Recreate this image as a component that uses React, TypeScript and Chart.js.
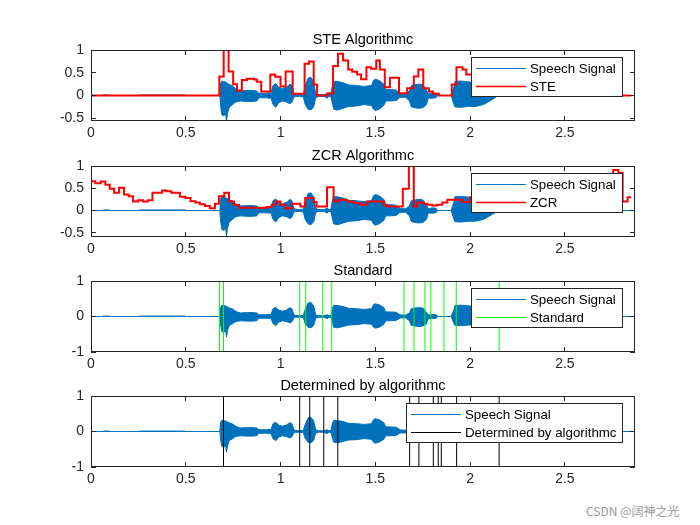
import React, { useEffect, useRef } from 'react';
import { Chart, registerables } from 'chart.js';

Chart.register(...registerables);

// ---------- data ----------
const X_MAX = 2.87;
const xTicks = [0, 0.5, 1, 1.5, 2, 2.5];
const yTicksHalf = [-0.5, 0, 0.5, 1];
const yTicksUnit = [-1, 0, 1];

// speech signal envelope (seconds, upper, lower)
const sigTime = [0, 0.06, 0.062, 0.10, 0.102, 0.25, 0.252, 0.50, 0.502, 0.68, 0.683, 0.69, 0.70, 0.71, 0.715, 0.72, 0.73, 0.745, 0.76, 0.775, 0.79, 0.82, 0.85, 0.875, 0.885, 0.92, 0.95, 0.96, 0.975, 0.99, 1.01, 1.03, 1.05, 1.06, 1.07, 1.08, 1.10, 1.12, 1.13, 1.145, 1.16, 1.175, 1.185, 1.20, 1.23, 1.245, 1.255, 1.265, 1.275, 1.28, 1.30, 1.33, 1.36, 1.40, 1.44, 1.48, 1.49, 1.50, 1.52, 1.545, 1.555, 1.58, 1.61, 1.63, 1.64, 1.66, 1.68, 1.69, 1.71, 1.73, 1.75, 1.77, 1.78, 1.79, 1.80, 1.82, 1.83, 1.90, 1.915, 1.92, 1.95, 1.99, 2.03, 2.07, 2.10, 2.12, 2.135, 2.14, 2.87];
const sigUpper = [0, 0, 0.012, 0.012, 0, 0, 0.012, 0.012, 0, 0, 0.25, 0.32, 0.30, 0.30, 0.28, 0.27, 0.24, 0.22, 0.16, 0.12, 0.10, 0.11, 0.11, 0.10, 0.05, 0.05, 0.06, 0.22, 0.26, 0.18, 0.15, 0.18, 0.25, 0.22, 0.05, 0.03, 0.02, 0.03, 0.20, 0.38, 0.40, 0.30, 0.05, 0.02, 0.02, 0.05, 0.02, 0.02, 0.25, 0.31, 0.31, 0.28, 0.23, 0.22, 0.20, 0.22, 0.33, 0.36, 0.33, 0.25, 0.13, 0.13, 0.12, 0.05, 0.04, 0.04, 0.10, 0.22, 0.24, 0.25, 0.24, 0.12, 0.04, 0.05, 0.06, 0.05, 0, 0, 0.20, 0.31, 0.32, 0.30, 0.28, 0.22, 0.14, 0.08, 0.04, 0, 0];
const sigLower = [0, 0, 0, 0, 0, 0, 0, 0, 0, 0, -0.2, -0.42, -0.45, -0.40, -0.58, -0.40, -0.25, -0.21, -0.15, -0.13, -0.12, -0.13, -0.13, -0.12, -0.05, -0.05, -0.06, -0.20, -0.26, -0.16, -0.12, -0.14, -0.18, -0.15, -0.04, -0.02, -0.02, -0.03, -0.2, -0.30, -0.32, -0.25, -0.05, -0.02, -0.02, -0.06, -0.02, -0.02, -0.2, -0.30, -0.32, -0.28, -0.24, -0.23, -0.20, -0.22, -0.30, -0.33, -0.30, -0.22, -0.12, -0.12, -0.11, -0.04, -0.04, -0.04, -0.12, -0.25, -0.27, -0.28, -0.27, -0.2, -0.05, -0.06, -0.06, -0.05, 0, 0, -0.2, -0.25, -0.26, -0.24, -0.24, -0.2, -0.13, -0.08, -0.04, 0, 0];

// short-time energy (frame start time, value)
const steTime = [0, 0.677, 0.70, 0.726, 0.75, 0.77, 0.796, 0.823, 0.86, 0.875, 0.898, 0.946, 0.972, 1.0, 1.027, 1.064, 1.127, 1.15, 1.175, 1.193, 1.25, 1.277, 1.303, 1.33, 1.357, 1.378, 1.404, 1.425, 1.453, 1.478, 1.505, 1.524, 1.55, 1.577, 1.625, 1.668, 1.703, 1.727, 1.753, 1.783, 1.804, 1.836, 1.903, 1.928, 1.96, 1.98, 2.03, 2.08, 2.13, 2.16, 2.85];
const steValue = [0, 0.42, 1.0, 0.53, 0.25, 0.11, 0.34, 0.37, 0.35, 0.30, 0.09, 0.46, 0.41, 0.2, 0.53, 0.04, 0.70, 0.75, 0.24, 0, 0.05, 0.65, 0.92, 0.77, 0.57, 0.52, 0.46, 0.36, 0.62, 0.59, 0.77, 0.57, 0.18, 0.39, 0.05, 0.16, 0.42, 0.57, 0.16, 0.09, 0.04, 0, 0.24, 0.62, 0.57, 0.46, 0.38, 0.2, 0.05, 0, 0];

// zero-crossing rate (frame start time, value)
const zcrTime = [0, 0.023, 0.051, 0.076, 0.099, 0.122, 0.148, 0.174, 0.199, 0.222, 0.248, 0.275, 0.301, 0.324, 0.375, 0.398, 0.424, 0.469, 0.498, 0.525, 0.551, 0.574, 0.601, 0.627, 0.654, 0.675, 0.703, 0.728, 0.754, 0.781, 0.927, 0.953, 0.975, 1.0, 1.025, 1.06, 1.105, 1.13, 1.175, 1.19, 1.245, 1.28, 1.307, 1.35, 1.385, 1.42, 1.457, 1.545, 1.56, 1.645, 1.677, 1.703, 1.72, 1.757, 1.775, 1.80, 1.825, 1.853, 1.88, 1.96, 2.0, 2.1, 2.3, 2.5, 2.755, 2.782, 2.805, 2.831, 2.85];
const zcrValue = [0.66, 0.61, 0.65, 0.58, 0.49, 0.40, 0.51, 0.36, 0.32, 0.20, 0.23, 0.20, 0.23, 0.40, 0.45, 0.43, 0.40, 0.31, 0.28, 0.21, 0.18, 0.14, 0.10, 0.05, 0.15, 0.32, 0.40, 0.20, 0.13, 0.06, 0.08, 0.13, 0.20, 0.13, 0.05, 0.15, 0.09, 0.28, 0.19, 0.09, 0.52, 0.20, 0.24, 0.20, 0.17, 0.13, 0.20, 0.13, 0.09, 0.49, 1.0, 0.09, 0.18, 0.15, 0.13, 0.11, 0.13, 0.18, 0.24, 0.19, 0.3, 0.45, 0.5, 0.55, 0.91, 0.85, 0.2, 0.3, 0.3];

// boundaries
const standardTimes = [0.678, 0.699, 1.101, 1.133, 1.2225, 1.270, 1.651, 1.704, 1.762, 1.793, 1.862, 1.927, 2.153];
const detectedTimes = [0.699, 1.101, 1.154, 1.228, 1.302, 1.681, 1.730, 1.806, 1.832, 1.848, 1.929, 2.153];

// ---------- styling ----------
const FONT = "'Liberation Sans', Arial, Helvetica, sans-serif";
const AXIS = '#262626';
const BLUE = '#0072BD';
const RED = '#FF0000';
const GREEN = '#00FF00';
const BLACK = '#000000';
const TICK = 5;
const TITLE_H = 27;
const XAXIS_H = 22;

const matlabFrame = {
  id: 'matlabFrame',
  afterDraw(chart: any) {
    const { ctx, chartArea: a } = chart;
    const xs = chart.scales.x;
    const ys = chart.scales.y;
    ctx.save();
    ctx.setLineDash([]);
    ctx.globalAlpha = 1;
    ctx.strokeStyle = AXIS;
    ctx.lineWidth = 1;
    ctx.beginPath();
    xs.ticks.forEach((t: any) => {
      const p = Math.floor(xs.getPixelForValue(t.value)) + 0.5;
      ctx.moveTo(p, a.top);
      ctx.lineTo(p, a.top + TICK);
      ctx.moveTo(p, a.bottom);
      ctx.lineTo(p, a.bottom - TICK);
    });
    ys.ticks.forEach((t: any) => {
      const p = Math.floor(ys.getPixelForValue(t.value)) + 0.5;
      ctx.moveTo(a.left, p);
      ctx.lineTo(a.left + TICK, p);
      ctx.moveTo(a.right, p);
      ctx.lineTo(a.right - TICK, p);
    });
    ctx.stroke();
    ctx.strokeRect(a.left + 0.5, a.top + 0.5, a.right - a.left - 1, a.bottom - a.top - 1);

    // legend box
    const items = chart.data.datasets.filter((d: any) => !d.noLegend);
    ctx.font = `13.3px ${FONT}`;
    const tw = Math.max(...items.map((d: any) => ctx.measureText(d.label).width));
    const w = Math.round(59 + tw + 6);
    const h = 39;
    const L = Math.round(a.right - 13 - w);
    const T = a.top + 7;
    ctx.fillStyle = '#ffffff';
    ctx.fillRect(L, T, w, h);
    ctx.strokeStyle = AXIS;
    ctx.lineWidth = 1;
    ctx.strokeRect(L + 0.5, T + 0.5, w, h);
    items.forEach((d: any, i: number) => {
      const y = Math.floor(T + 11 + i * 18.5);
      ctx.beginPath();
      ctx.strokeStyle = d.legendColor;
      ctx.lineWidth = d.legendWidth || 1;
      ctx.moveTo(L + 5, y + 0.5);
      ctx.lineTo(L + 55, y + 0.5);
      ctx.stroke();
      ctx.fillStyle = '#000000';
      ctx.textBaseline = 'middle';
      ctx.textAlign = 'left';
      ctx.fillText(d.label, L + 59, y + 1);
    });
    ctx.restore();
  },
};

function signalSets() {
  return [
    {
      label: 'Speech Signal',
      data: sigTime.map((t, i) => ({ x: t, y: sigUpper[i] })),
      borderColor: BLUE,
      backgroundColor: BLUE,
      borderWidth: 1,
      pointRadius: 0,
      fill: '+1',
      order: 5,
      legendColor: BLUE,
      legendWidth: 1,
    },
    {
      label: 'lower',
      noLegend: true,
      data: sigTime.map((t, i) => ({ x: t, y: sigLower[i] })),
      borderColor: BLUE,
      backgroundColor: BLUE,
      borderWidth: 1,
      pointRadius: 0,
      fill: false,
      order: 5,
    },
  ];
}

function stepSet(label: string, times: number[], values: number[]) {
  return {
    label,
    data: times.map((t, i) => ({ x: t, y: values[i] })),
    borderColor: RED,
    backgroundColor: RED,
    borderWidth: 2,
    pointRadius: 0,
    fill: false,
    stepped: 'before',
    order: 1,
    legendColor: RED,
    legendWidth: 1.5,
  };
}

function vlineSet(label: string, times: number[], color: string) {
  const data: any[] = [];
  times.forEach((t) => {
    data.push({ x: t, y: -1 }, { x: t, y: 1 }, { x: t, y: null });
  });
  return {
    label,
    data,
    borderColor: color,
    backgroundColor: color,
    borderWidth: 1,
    pointRadius: 0,
    fill: false,
    spanGaps: false,
    order: 1,
    legendColor: color,
    legendWidth: 1,
  };
}

const panels = [
  { title: 'STE Algorithmc', top: 50, bottom: 121, yMin: -0.56, yMax: 1, yTicks: yTicksHalf, extra: () => stepSet('STE', steTime, steValue) },
  { title: 'ZCR Algorithmc', top: 166, bottom: 237, yMin: -0.595, yMax: 1, yTicks: yTicksHalf, extra: () => stepSet('ZCR', zcrTime, zcrValue) },
  { title: 'Standard', top: 281, bottom: 352, yMin: -1, yMax: 1, yTicks: yTicksUnit, extra: () => vlineSet('Standard', standardTimes, GREEN) },
  { title: 'Determined by algorithmc', top: 396, bottom: 467, yMin: -1, yMax: 1, yTicks: yTicksUnit, extra: () => vlineSet('Determined by algorithmc', detectedTimes, BLACK) },
];

function makeConfig(p: any): any {
  const tickFont = { family: FONT, size: 14 };
  return {
    type: 'line',
    data: { datasets: [...signalSets(), p.extra()] },
    plugins: [matlabFrame],
    options: {
      animation: false,
      responsive: false,
      maintainAspectRatio: false,
      events: [],
      layout: { padding: { left: 0, right: 65, top: 0, bottom: 0 } },
      plugins: {
        legend: { display: false },
        tooltip: { enabled: false },
        title: {
          display: true,
          text: p.title,
          color: '#000000',
          fullSize: false,
          font: { family: FONT, size: 14.5, weight: 'normal', lineHeight: '16px' },
          padding: { top: 9, bottom: 2 },
        },
      },
      scales: {
        x: {
          type: 'linear',
          min: 0,
          max: X_MAX,
          grid: { display: false, drawTicks: false },
          border: { display: false },
          ticks: { color: AXIS, font: tickFont, padding: 4, maxRotation: 0, autoSkip: false, callback: (v: number) => String(v) },
          afterBuildTicks: (s: any) => { s.ticks = xTicks.map((v) => ({ value: v })); },
          afterFit: (s: any) => { s.height = XAXIS_H; },
        },
        y: {
          type: 'linear',
          min: p.yMin,
          max: p.yMax,
          grid: { display: false, drawTicks: false },
          border: { display: false },
          ticks: { color: AXIS, font: tickFont, padding: 7, autoSkip: false, callback: (v: number) => String(v) },
          afterBuildTicks: (s: any) => { s.ticks = p.yTicks.map((v: number) => ({ value: v })); },
          afterFit: (s: any) => { s.width = 91; },
        },
      },
    },
  };
}

export default function App() {
  const refs = [useRef<HTMLCanvasElement>(null), useRef<HTMLCanvasElement>(null), useRef<HTMLCanvasElement>(null), useRef<HTMLCanvasElement>(null)];

  useEffect(() => {
    const charts = panels.map((p, i) => new Chart(refs[i].current as HTMLCanvasElement, makeConfig(p)));
    return () => charts.forEach((c) => c.destroy());
  }, []);

  return (
    <div style={{ position: 'fixed', left: 0, top: 0, width: 700, height: 525, background: '#ffffff', overflow: 'hidden' }}>
      {panels.map((p, i) => {
        const h = TITLE_H + (p.bottom - p.top) + XAXIS_H;
        return (
          <canvas
            key={i}
            ref={refs[i]}
            width={700}
            height={h}
            style={{ position: 'absolute', left: 0, top: p.top - TITLE_H, width: 700, height: h, display: 'block' }}
          />
        );
      })}
      <div style={{ position: 'absolute', left: 586, top: 502, fontFamily: "'Noto Sans CJK SC', sans-serif", fontSize: 12, color: '#9a9a9a', whiteSpace: 'nowrap' }}>
        CSDN @阔神之光
      </div>
    </div>
  );
}
